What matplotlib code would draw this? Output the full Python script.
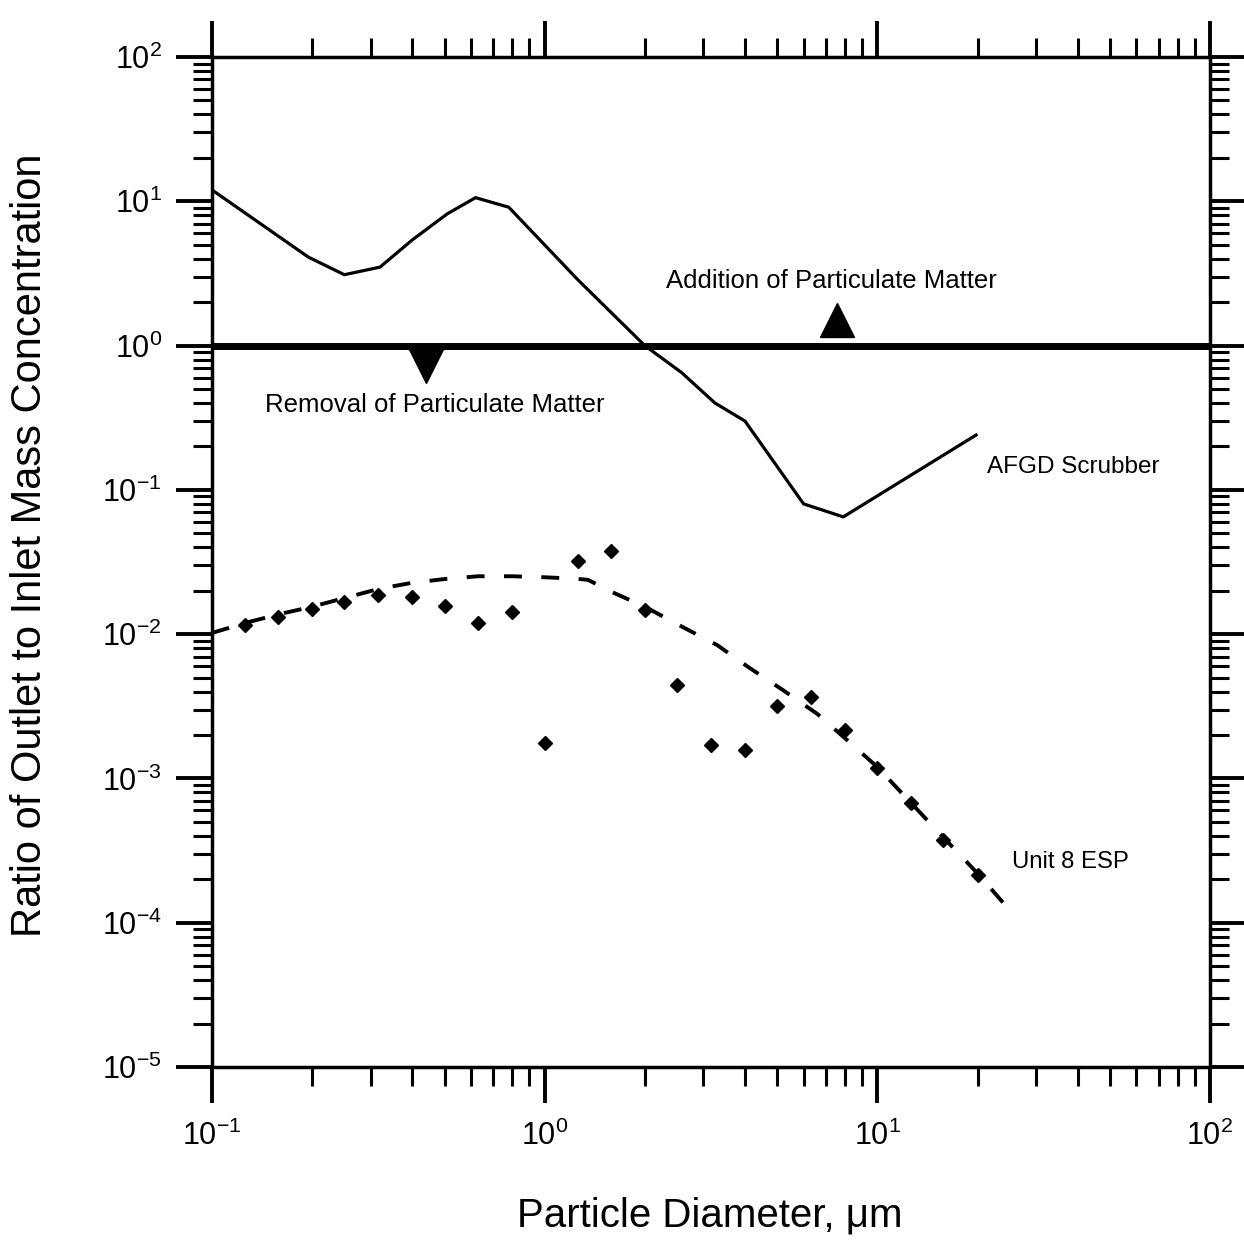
import numpy as np
import matplotlib.pyplot as plt
from matplotlib.ticker import LogLocator, NullFormatter

plt.rcParams['font.family'] = ['Liberation Sans', 'DejaVu Sans']
plt.rcParams['mathtext.fontset'] = 'custom'
plt.rcParams['mathtext.rm'] = 'Liberation Sans'
plt.rcParams['mathtext.it'] = 'Liberation Sans:italic'
plt.rcParams['mathtext.bf'] = 'Liberation Sans:bold'

# AFGD scrubber curve
afgd_x = [0.1, 0.195, 0.25, 0.32, 0.4, 0.51, 0.62, 0.78, 1.26, 2.0, 2.58, 3.25, 4.0, 6.0, 7.9, 19.8]
afgd_y = [12.0, 4.1, 3.1, 3.5, 5.4, 8.2, 10.6, 9.1, 2.85, 1.0, 0.65, 0.40, 0.30, 0.080, 0.065, 0.24]

# Unit 8 ESP measured points
esp_x = [0.126, 0.158, 0.2, 0.25, 0.316, 0.4, 0.5, 0.63, 0.8, 1.0, 1.26, 1.58,
         2.0, 2.5, 3.16, 4.0, 5.0, 6.3, 8.0, 10.0, 12.6, 15.8, 20.0]
esp_y = [0.0116, 0.0131, 0.0150, 0.0167, 0.0187, 0.0181, 0.0157, 0.0120, 0.0143,
         0.00176, 0.032, 0.038, 0.0147, 0.00445, 0.0017, 0.00158, 0.00318, 0.00367,
         0.00217, 0.00118, 6.8e-4, 3.75e-4, 2.14e-4]

# Unit 8 ESP fitted (dashed) curve
fit_x = [0.1, 0.13, 0.16, 0.2, 0.25, 0.32, 0.4, 0.5, 0.63, 0.8, 1.0, 1.25, 1.35,
         1.6, 2.0, 2.6, 3.3, 4.1, 5.2, 6.6, 8.1, 10, 12.6, 15.8, 20, 26]
fit_y = [0.0102, 0.0122, 0.0138, 0.0155, 0.0178, 0.0207, 0.0227, 0.0241, 0.0252,
         0.0252, 0.0248, 0.0242, 0.0238, 0.0195, 0.0155, 0.0112, 0.0084, 0.0059,
         0.0041, 0.0028, 0.00185, 0.0012, 6.8e-4, 3.9e-4, 2.2e-4, 1.1e-4]

# direction arrows (removal / addition)
down_x, down_y = [0.44], [0.72]
up_x, up_y = [7.54], [1.5]

fig = plt.figure(figsize=(12.44, 12.40), dpi=100)
ax = fig.add_axes([0.1704, 0.1395, 0.8023, 0.8145])
ax.set_xscale('log')
ax.set_yscale('log')

ax.axhline(1.0, color='black', lw=5, zorder=2)
ax.plot(afgd_x, afgd_y, color='black', lw=2.3)
ax.plot(fit_x, fit_y, color='black', lw=2.8, dashes=(4.6, 5.0))
ax.plot(esp_x, esp_y, 'D', color='black', ms=7.5, ls='none')
ax.plot(down_x, down_y, 'v', color='black', ms=24, ls='none')
ax.plot(up_x, up_y, '^', color='black', ms=24, ls='none')

ax.text(7.26, 2.8, 'Addition of Particulate Matter', fontsize=18.5, ha='center', va='center')
ax.text(0.467, 0.39, 'Removal of Particulate Matter', fontsize=18.5, ha='center', va='center')
ax.text(21.3, 0.144, 'AFGD Scrubber', fontsize=17.5, ha='left', va='center')
ax.text(25.4, 2.64e-4, 'Unit 8 ESP', fontsize=17.2, ha='left', va='center')

ax.set_xlim(0.1, 100)
ax.set_ylim(1e-5, 1e2)

for axis in (ax.xaxis, ax.yaxis):
    axis.set_major_locator(LogLocator(base=10, numticks=20))
    axis.set_minor_locator(LogLocator(base=10, subs=np.arange(2, 10), numticks=100))
    axis.set_minor_formatter(NullFormatter())

ax.tick_params(which='major', direction='out', length=26, width=2.8,
               top=True, right=True, labelsize=22)
ax.tick_params(which='minor', direction='out', length=14, width=2.2,
               top=True, right=True)
ax.tick_params(axis='x', which='major', pad=13)
ax.tick_params(axis='y', which='major', pad=10)
for s in ax.spines.values():
    s.set_linewidth(2.5)

fig.text(710 / 1244, 1 - 1215 / 1240, 'Particle Diameter, \u03bcm', fontsize=29,
         ha='center', va='center')
fig.text(30 / 1244, 1 - 545 / 1240, 'Ratio of Outlet to Inlet Mass Concentration',
         fontsize=30, ha='center', va='center', rotation=90)

plt.savefig('out.png', dpi=100, facecolor='white')
